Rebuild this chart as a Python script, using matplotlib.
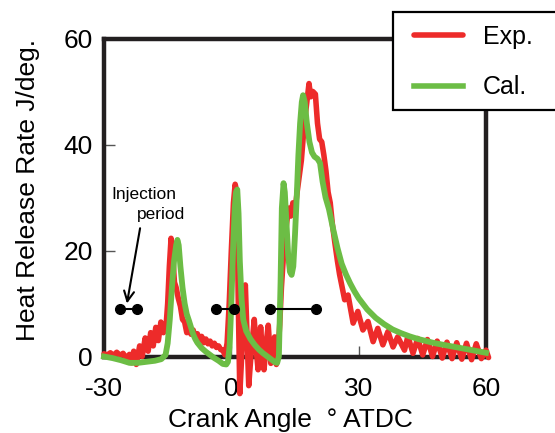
import matplotlib
matplotlib.use("Agg")
import matplotlib.pyplot as plt
from matplotlib.patches import Rectangle

plt.rcParams['font.family'] = ['Liberation Sans', 'DejaVu Sans']

# ---------------- data ----------------
cal_x = [-30, -28, -26, -24, -22, -20, -18, -16.5, -15.5, -15, -14.5, -14, -13.5, -13,
         -12.7, -12.4, -12, -11.5, -11, -10.5, -10, -9.5, -9, -8.5, -8, -7, -6, -5, -4,
         -3, -2, -1.2, -0.8, -0.4, 0, 0.4, 0.8, 1.1, 1.4, 1.7, 2.0, 2.4, 2.8, 3.5, 4.5,
         5.5, 6.5, 7.5, 8.5, 9.5, 10.3, 10.8, 11.2, 11.6, 11.9, 12.3, 12.6, 13.0, 13.4,
         13.8, 14.2, 14.6, 15.0, 15.4, 15.8, 16.2, 16.6, 16.9, 17.3, 17.8, 18.4, 19.0,
         19.6, 20.3, 20.9, 21.5, 22.2, 23.0, 24.0, 25.0, 26.0, 27.0, 28.0, 29.0, 30.0,
         32, 34, 36, 38, 40, 42, 44, 46, 48, 50, 52, 54, 56, 58, 60]
cal_y = [0.0, -0.3, -0.7, -1.2, -1.2, -1.0, -0.8, -0.5, 0.3, 2.5, 7, 13, 18, 21,
         22, 21, 17, 13, 10, 8, 6.8, 5.5, 4.2, 3.3, 2.6, 1.6, 0.9, 0.3, -0.3,
         -0.8, -1.4, -1.5, -1.0, 2, 10, 20, 28, 31, 31.5, 27, 18, 11, 7, 4.8, 3.3,
         2.2, 1.3, 0.6, 0.0, -0.6, -1.1, -1.2, 0, 14, 28, 32.7, 31, 25, 19,
         16, 15.4, 17, 23, 30, 38, 44, 48, 49.3, 48, 44, 40.5, 38.5,
         37.7, 37.3, 36.5, 33, 30, 27.8, 24, 20.5, 17.5, 15.5, 13.8, 12.3, 11.0,
         8.9, 7.3, 6.1, 5.1, 4.4, 3.8, 3.3, 2.9, 2.5, 2.2, 1.9, 1.6, 1.3, 1.0, 0.7]

exp_x = [-30, -29.2, -28.5, -27.8, -27, -26.2, -25.5, -24.8, -24, -23.5, -23.0, -22.4,
         -21.6, -21.0, -20.3, -19.6, -19.0, -18.4, -17.8, -17.2, -16.6, -16.0, -15.4,
         -15.0, -14.6, -14.2, -13.8, -13.4, -13.0, -12.5, -12.0, -11.5, -11.0, -10.5,
         -10.0, -9.5, -9.0, -8.5, -8.0, -7.5, -7.0, -6.5, -6.0, -5.5, -5.0, -4.5, -4.0,
         -3.5, -3.0, -2.5, -2.0, -1.5, -1.0, -0.5, 0.0, 0.5, 0.9, 1.3, 1.6, 2.0, 2.5,
         3.0, 3.3, 3.7, 4.1, 4.7, 5.4, 5.9, 6.3, 6.9, 7.3, 7.7, 8.2, 8.7, 9.3, 9.8,
         10.2, 10.6, 11.0, 11.4, 11.8, 12.2, 12.6, 13.0, 13.5, 14.0, 14.5, 15.0, 15.5,
         16.0, 16.5, 17.0, 17.5, 18.0, 18.3, 18.7, 19.2, 19.8, 20.3, 20.8, 21.3, 21.8,
         22.3, 22.8, 23.3, 23.8, 24.4, 25.0, 25.5, 26.7, 27.5, 28.7, 29.8, 31.0, 32.2,
         33.4, 34.5, 35.7, 36.9, 38.1, 39.2, 40.8, 41.6, 42.8, 43.9, 45.1, 46.2, 47.4,
         48.5, 49.7, 50.8, 52.0, 53.1, 54.3, 55.4, 56.6, 57.7, 58.9, 60.0, 60.6]
exp_y = [0.5, 0.3, 0.7, 0.2, 0.8, 0.2, 0.6, -0.3, 0.4, -1.2, 1.0, -1.5,
         2.0, 0.0, 3.5, 1.0, 4.5, 2.0, 5.5, 3.0, 6.5, 4.5, 5.5,
         10, 17, 22.3, 19, 14, 13, 11, 9.5, 7, 6.5, 4.5,
         6.0, 4.2, 5.0, 3.6, 4.3, 3.0, 3.8, 2.6, 3.3, 2.4, 2.9, 2.0, 2.5,
         1.7, 2.0, 1.3, 1.2, 0.3, 2.5, 10, 20, 29, 32.5, 31, 12, -7, 1,
         11, 13.5, 4, -5.5, 1, 7, 1, -2.5, 5.6, 1, -2.5, 2.5, 5.9, -1.3, 1.5,
         3.7, -1.5, 1, 6, 13, 18, 22, 25, 28, 26.5, 29, 27.5, 31,
         34, 37, 42, 46, 49.5, 51.5, 49, 50, 49.5, 44, 41, 40.5, 38,
         35, 31, 29, 25, 21.4, 18, 15.5, 10.7, 11.6, 6.3, 8.5, 5.0, 6.6,
         2.8, 5.3, 2.2, 4.7, 1.8, 3.7, 1.2, 3.8, 0.6, 3.4, 0.3, 3.2, 0.0,
         2.9, -0.3, 2.7, -0.4, 2.6, -0.5, 2.5, -0.6, 2.4, -0.4, 1.2, -0.2]

# injection periods (start, end) at marker height
inj_periods = [(-26.2, -22.2), (-3.5, 0.6), (9.1, 20.0)]
inj_level = 8.9

xticks = [-30, 0, 30, 60]
yticks = [0, 20, 40, 60]

# ---------------- figure ----------------
W, H = 555, 433
fig = plt.figure(figsize=(W / 100, H / 100), dpi=100)
ax = fig.add_axes([104 / W, 1 - 356.5 / H, 382 / W, 318 / H])

RED = '#ED2B2A'
GREEN = '#6CBD45'
SPINE = '#231F20'

ax.plot(exp_x, exp_y, color=RED, lw=4.0, clip_on=False, zorder=3,
        solid_joinstyle='round', solid_capstyle='round', label='Exp.')
ax.plot(cal_x, cal_y, color=GREEN, lw=4.2, clip_on=False, zorder=4,
        solid_joinstyle='round', label='Cal.')

for a, b in inj_periods:
    ax.plot([a, b], [inj_level, inj_level], color='black', lw=1.5,
            marker='o', ms=7, zorder=5)

ax.annotate('', xy=(-24.6, 10.0), xytext=(-21.5, 24.2),
            arrowprops=dict(arrowstyle='->', color='black', lw=1.5,
                            mutation_scale=18, shrinkA=0, shrinkB=0))
ax.text(-28.2, 29.8, 'Injection', fontsize=12.5, ha='left', va='baseline')
ax.text(-22.3, 25.9, 'period', fontsize=12.5, ha='left', va='baseline')

ax.set_xlim(-30, 60)
ax.set_ylim(0, 60)
ax.set_xticks(xticks)
ax.set_yticks(yticks)
ax.set_xticklabels([str(t) for t in xticks])
ax.set_yticklabels([str(t) for t in yticks])
ax.tick_params(direction='in', length=8, width=1, labelsize=19, color='#555555')
ax.tick_params(axis='x', pad=15)
ax.tick_params(axis='y', pad=8)

for s in ax.spines.values():
    s.set_linewidth(3.2)
    s.set_color(SPINE)

ax.set_xlabel('Crank Angle  \u00b0 ATDC', fontsize=19)
ax.xaxis.set_label_coords((290 - 104) / 382, (356.5 - 420) / 318)
ax.xaxis.label.set_va('center')
ax.set_ylabel('Heat Release Rate J/deg.', fontsize=19)
ax.yaxis.set_label_coords((28 - 104) / 382, (356.5 - 190) / 318)
ax.yaxis.label.set_va('center')

# legend frame (extends past the right edge of the figure, as in the original)
frame = Rectangle((393 / W, 1 - 110 / H), 180 / W, 98 / H, transform=fig.transFigure,
                  facecolor='white', edgecolor='black', linewidth=1.6,
                  clip_on=False, zorder=6)
ax.add_patch(frame)

leg = ax.legend(loc='upper left', bbox_to_anchor=(414 / W, 1 - 25 / H),
                bbox_transform=fig.transFigure, borderaxespad=0, borderpad=0,
                fontsize=18, frameon=False, handlelength=1.95, handletextpad=0.8,
                labelspacing=1.06)
leg.set_zorder(7)
for line in leg.get_lines():
    line.set_linewidth(4)

fig.savefig('out.png', dpi=100)
